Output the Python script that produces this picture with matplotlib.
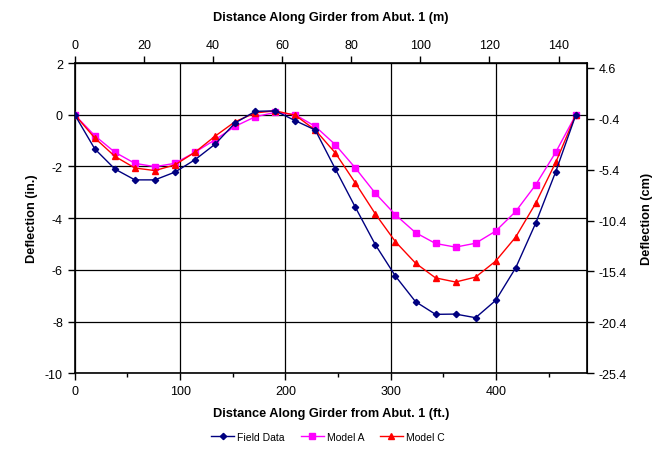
import matplotlib
matplotlib.use("Agg")
import matplotlib.pyplot as plt
from matplotlib.ticker import MultipleLocator

plt.rcParams['font.family'] = ['Liberation Sans', 'DejaVu Sans']
plt.rcParams['axes.unicode_minus'] = False

# Station positions along girder (ft)
x_ft = [0.0, 19.0, 38.1, 57.1, 76.1, 95.1, 114.2, 133.2, 152.2, 171.3, 190.3,
        209.3, 228.3, 247.4, 266.4, 285.4, 304.4, 323.5, 342.5, 361.5, 380.5,
        399.6, 418.6, 437.6, 456.6, 475.7]

field_data = [0.0, -1.32, -2.10, -2.52, -2.52, -2.22, -1.74, -1.14, -0.32, 0.13,
              0.15, -0.23, -0.59, -2.10, -3.58, -5.03, -6.24, -7.23, -7.72, -7.71,
              -7.85, -7.18, -5.92, -4.19, -2.20, 0.0]
model_a = [0.0, -0.81, -1.45, -1.88, -2.01, -1.88, -1.45, -0.97, -0.45, -0.08,
           0.09, 0.0, -0.45, -1.16, -2.06, -3.04, -3.87, -4.56, -4.98, -5.12,
           -4.97, -4.50, -3.74, -2.71, -1.45, 0.0]
model_c = [0.0, -0.90, -1.61, -2.06, -2.16, -1.94, -1.45, -0.83, -0.27, 0.07,
           0.15, -0.02, -0.59, -1.48, -2.64, -3.84, -4.91, -5.74, -6.31, -6.47,
           -6.28, -5.66, -4.73, -3.42, -1.84, 0.0]

cm_ticks = [-25.4, -20.4, -15.4, -10.4, -5.4, -0.4, 4.6]
m_ticks = [0, 20, 40, 60, 80, 100, 120, 140]

fig = plt.figure(figsize=(6.56, 4.52), dpi=100)
ax = fig.add_axes([0.1139, 0.1719, 0.8944 - 0.1139, 0.8584 - 0.1719])

ax.plot(x_ft, field_data, color='#000080', lw=1.0, marker='D', ms=3.2,
        label='Field Data', zorder=5)
ax.plot(x_ft, model_a, color='#FF00FF', lw=1.0, marker='s', ms=4.5,
        label='Model A', zorder=4)
ax.plot(x_ft, model_c, color='#FF0000', lw=1.0, marker='^', ms=5,
        label='Model C', zorder=4)

ax.set_xlim(0, 486)
ax.set_ylim(-10, 2)
ax.xaxis.set_major_locator(MultipleLocator(100))
ax.xaxis.set_minor_locator(MultipleLocator(50))
ax.yaxis.set_major_locator(MultipleLocator(2))
ax.grid(True, which='major', color='black', lw=0.9)
ax.set_axisbelow(True)
ax.tick_params(axis='both', which='major', direction='out', length=5,
               width=1, labelsize=9, color='black')
ax.tick_params(axis='x', which='minor', direction='out', length=3, width=1)
for s in ax.spines.values():
    s.set_color('black')
    s.set_linewidth(1.2)

ax.set_xlabel('Distance Along Girder from Abut. 1 (ft.)', fontsize=9.2,
              fontweight='bold', labelpad=7)
ax.set_ylabel('Deflection (in.)', fontsize=9.2, fontweight='bold', labelpad=5)

top = ax.secondary_xaxis('top', functions=(lambda f: f * 0.3048,
                                           lambda m: m / 0.3048))
top.set_xticks(m_ticks)
top.tick_params(direction='out', length=5, width=1, labelsize=9)
top.set_xlabel('Distance Along Girder from Abut. 1 (m)', fontsize=9.2,
               fontweight='bold', labelpad=14)

right = ax.secondary_yaxis('right', functions=(lambda i: i * 2.54,
                                               lambda c: c / 2.54))
right.set_yticks(cm_ticks)
right.set_yticklabels([f'{v:.1f}' for v in cm_ticks])
right.tick_params(direction='out', length=5, width=1, labelsize=9)
right.set_ylabel('Deflection (cm)', fontsize=9.2, fontweight='bold', labelpad=10)

fig.legend(loc='lower center', bbox_to_anchor=(0.5, 0.0), ncol=3,
           frameon=False, fontsize=7.5, handlelength=2.2, columnspacing=1.5,
           handletextpad=0.3)

fig.savefig('out.png', dpi=100)
